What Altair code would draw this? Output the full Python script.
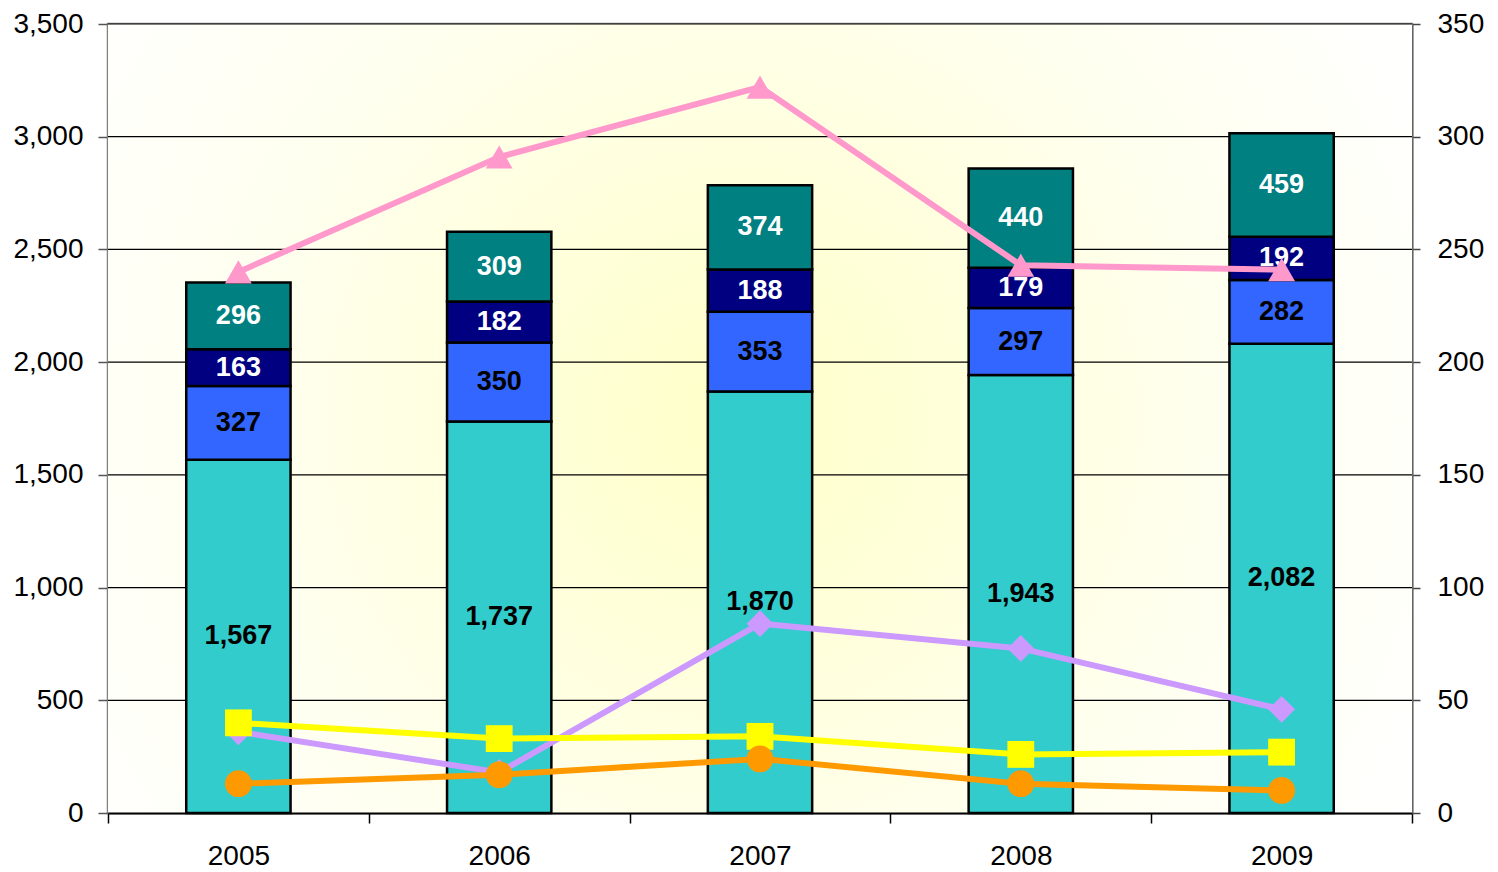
import altair as alt
import pandas as pd

# ---------------- data ----------------
years = ["2005", "2006", "2007", "2008", "2009"]

seg_names = ["Segment 1", "Segment 2", "Segment 3", "Segment 4"]  # bottom -> top
seg1 = [1567, 1737, 1870, 1943, 2082]
seg2 = [327, 350, 353, 297, 282]
seg3 = [163, 182, 188, 179, 192]
seg4 = [296, 309, 374, 440, 459]
seg_colors = ["#33CCCC", "#3366FF", "#000080", "#008080"]
seg_text_colors = ["black", "black", "white", "white"]

line_names = ["Line 1", "Line 2", "Line 3", "Line 4"]
line1 = [240, 291, 322, 243, 241]   # pink triangles
line2 = [36, 18, 84, 73, 46]        # purple diamonds
line3 = [40, 33, 34, 26, 27]        # yellow squares
line4 = [13, 17, 24, 13, 10]        # orange circles
line_colors = ["#FF99CC", "#CC99FF", "#FFFF00", "#FF9900"]
line_shapes = ["triangle-up", "diamond", "square", "circle"]

left_ticks = [0, 500, 1000, 1500, 2000, 2500, 3000, 3500]
right_ticks = [0, 50, 100, 150, 200, 250, 300, 350]

# ---------------- tables ----------------
rows = []
for i, vals in enumerate([seg1, seg2, seg3, seg4]):
    for y, v in zip(years, vals):
        rows.append({"year": y, "seg": seg_names[i], "order": i, "value": v,
                     "tcol": seg_text_colors[i]})
bars_df = pd.DataFrame(rows)

lrows = []
for i, vals in enumerate([line1, line2, line3, line4]):
    for y, v in zip(years, vals):
        lrows.append({"year": y, "series": line_names[i], "value": v})
lines_df = pd.DataFrame(lrows)

grid_df = pd.DataFrame({"g": left_ticks})

W, H = 1304, 789
FONT = "Liberation Sans"
AXFS = 28

x_enc = alt.X(
    "year:N",
    scale=alt.Scale(paddingInner=0, paddingOuter=0),
    axis=alt.Axis(
        title=None, labelAngle=0, labelFontSize=AXFS, labelFont=FONT,
        labelColor="black", labelPadding=19, tickBand="extent", tickSize=10,
        tickColor="black", tickWidth=1.5, domainColor="black", domainWidth=2,
        grid=False,
    ),
)

yscale_left = alt.Scale(domain=[0, 3500], nice=False)
yscale_right = alt.Scale(domain=[0, 350], nice=False)

# background gradient
bg = alt.Chart(pd.DataFrame({"a": [0]})).mark_rect(
    fill={
        "gradient": "radial",
        "x1": 0.48, "y1": 0.5, "r1": 0,
        "x2": 0.48, "y2": 0.5, "r2": 0.6,
        "stops": [
            {"offset": 0, "color": "#FFFFC8"},
            {"offset": 0.6, "color": "#FFFFEE"},
            {"offset": 1, "color": "#FFFFFF"},
        ],
    }
).encode(x=alt.value(0), x2=alt.value(W), y=alt.value(0), y2=alt.value(H))

grid = alt.Chart(grid_df).mark_rule(color="#000000", strokeWidth=1.2).encode(
    x=alt.value(0), x2=alt.value(W),
    y=alt.Y("g:Q", scale=yscale_left,
            axis=alt.Axis(
                title=None, values=left_ticks, format=",d", labelFontSize=AXFS,
                labelFont=FONT, labelColor="black", labelPadding=15,
                tickSize=10, tickColor="#555555", tickWidth=1.5,
                domainColor="#808080", domainWidth=2.5, grid=False,
                orient="left",
            )),
)

bars = alt.Chart(bars_df).mark_bar(stroke="black", strokeWidth=2.5, width={"band": 0.4}).encode(
    x=x_enc,
    y=alt.Y("value:Q", stack="zero", scale=yscale_left),
    color=alt.Color("seg:N", scale=alt.Scale(domain=seg_names, range=seg_colors), legend=None),
    order=alt.Order("order:Q"),
)

labels = alt.Chart(bars_df).transform_stack(
    stack="value", groupby=["year"], as_=["v0", "v1"],
    sort=[alt.SortField("order", order="ascending")],
).transform_calculate(
    mid="(datum.v0 + datum.v1) / 2"
).mark_text(fontSize=27, fontWeight="bold", font=FONT, baseline="middle").encode(
    x=x_enc,
    y=alt.Y("mid:Q", scale=yscale_left),
    text=alt.Text("value:Q", format=",d"),
    color=alt.Color("tcol:N", scale=None),
)

left = alt.layer(bg, grid, bars, labels)

lines = alt.Chart(lines_df).mark_line(strokeWidth=6).encode(
    x=x_enc,
    y=alt.Y("value:Q", scale=yscale_right,
            axis=alt.Axis(
                title=None, values=right_ticks, format="d", labelFontSize=AXFS,
                labelFont=FONT, labelColor="black", labelPadding=17,
                tickSize=8, tickColor="#444444", tickWidth=1.5,
                domainColor="#666666", domainWidth=2, grid=False,
                orient="right",
            )),
    color=alt.Color("series:N", scale=alt.Scale(domain=line_names, range=line_colors), legend=None),
    detail="series:N",
)

points = alt.Chart(lines_df).mark_point(filled=True, opacity=1, size=720).encode(
    x=x_enc,
    y=alt.Y("value:Q", scale=yscale_right),
    color=alt.Color("series:N", scale=alt.Scale(domain=line_names, range=line_colors), legend=None),
    shape=alt.Shape("series:N", scale=alt.Scale(domain=line_names, range=line_shapes), legend=None),
)

right = alt.layer(lines, points)

chart = alt.layer(left, right).resolve_scale(
    y="independent", color="independent"
).properties(
    width=W, height=H,
    padding={"left": 100, "top": 16, "right": 75, "bottom": 58},
    autosize=alt.AutoSizeParams(type="none"),
).configure_view(
    stroke="#808080", strokeWidth=2.5
)

chart.save("out.html", embed_options={"renderer": "svg", "actions": False})
